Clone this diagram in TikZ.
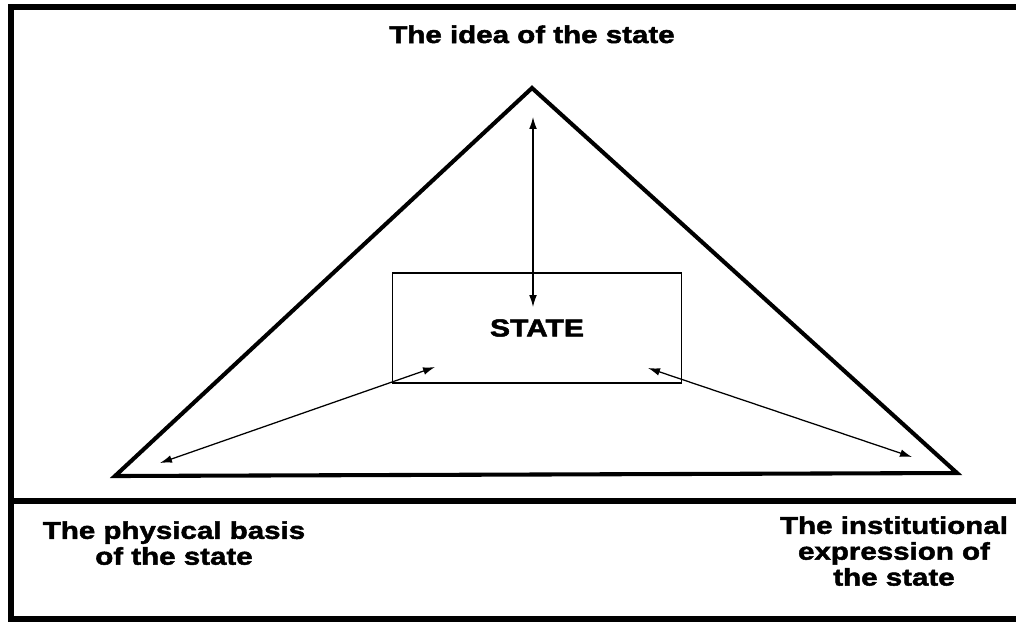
\documentclass[tikz,border=0pt]{standalone}
\usepackage{fontspec}
\setmainfont{Liberation Sans}
\newfontfamily\heavyfont[FakeStretch=1.22, FakeBold=2]{Liberation Sans Bold}
\usepackage{tikz}
\usetikzlibrary{arrows.meta,positioning}

\begin{document}
\begin{tikzpicture}[
  x=0.025cm, y=-0.025cm,
  heading/.style={align=center, inner sep=0pt, font=\heavyfont\fontsize{17.2}{18.4}\selectfont},
  outline/.style={line width=3.6pt},
  tri/.style={line width=2.9pt, line join=miter},
  statebox/.style={draw, line width=1pt, minimum width=7.225cm, minimum height=2.75cm,
    font=\heavyfont\fontsize{17.5}{19}\selectfont},
  arr/.style={{Latex[length=8.5pt,width=5.5pt]}-{Latex[length=8.5pt,width=5.5pt]}, line width=0.9pt}
]
\useasboundingbox (0,0) rectangle (1016,621);
% frame and divider
\draw[outline] (1020,7) -- (11,7) -- (11,619) -- (1020,619);
\draw[outline] (11,501) -- (1020,501);
% triangle
\coordinate (apex) at (532,88);
\coordinate (left) at (115,476);
\coordinate (right) at (957,473);
\draw[tri] (apex) -- (left) -- (right) -- cycle;
% texts
\node[heading, anchor=base] (idea) at (532,43) {The idea of the state};
\node[heading, anchor=north] (physical) at (174,521) {The physical basis\\of the state};
\node[heading, anchor=north] (institutional) at (894,516) {The institutional\\expression of\\the state};
\node[statebox] (state) at (537,328) {STATE};
% arrow ends
\coordinate (ideaend) at (533,117);
\coordinate (stateup) at (533,307);
\coordinate (physend) at (160,463);
\coordinate (stateleft) at (435,367);
\coordinate (stateright) at (648,368);
\coordinate (instend) at (912,457);
\draw[arr] (ideaend) -- (stateup);
\draw[arr] (physend) -- (stateleft);
\draw[arr] (stateright) -- (instend);
\end{tikzpicture}
\end{document}
